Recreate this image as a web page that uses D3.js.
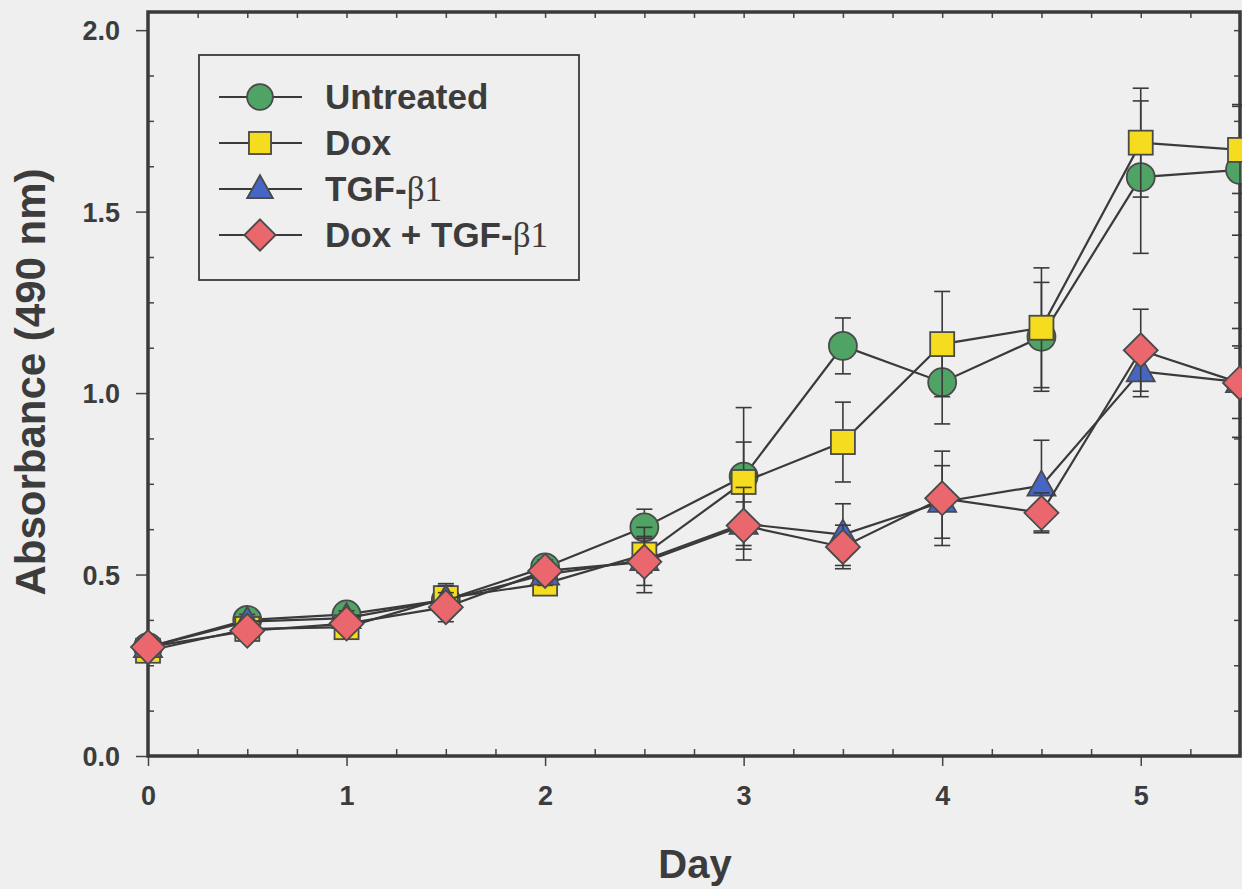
<!DOCTYPE html>
<html>
<head>
<meta charset="utf-8">
<script src="https://cdn.jsdelivr.net/npm/d3@7"></script>
<style>
  body { margin: 0; background: #efefef; }
  svg { display: block; }
  text { font-family: "Liberation Sans", Arial, sans-serif; font-weight: bold; fill: #3c3c3c; }
</style>
</head>
<body>
<svg id="chart" width="1242" height="889"></svg>
<script>
// days sampled
var days = [0, 0.5, 1, 1.5, 2, 2.5, 3, 3.5, 4, 4.5, 5, 5.5];

// absorbance means
var untreated = [0.30, 0.375, 0.39, 0.43, 0.52, 0.63, 0.77, 1.13, 1.03, 1.155, 1.595, 1.615];
var dox       = [0.29, 0.35, 0.355, 0.435, 0.475, 0.555, 0.755, 0.865, 1.135, 1.18, 1.69, 1.67];
var tgf       = [0.30, 0.37, 0.38, 0.43, 0.50, 0.54, 0.64, 0.61, 0.70, 0.745, 1.06, 1.03];
var doxTgf    = [0.30, 0.345, 0.365, 0.41, 0.51, 0.535, 0.635, 0.576, 0.71, 0.67, 1.118, 1.028];

// error bar half-widths
var untreatedErr = [0.02, 0.02, 0.02, 0.03, 0.03, 0.05, 0.19, 0.077, 0.115, 0.15, 0.21, 0.18];
var doxErr       = [0.02, 0.02, 0.02, 0.04, 0.03, 0.05, 0.11, 0.11, 0.145, 0.165, 0.15, 0.12];
var tgfErr       = [0.02, 0.02, 0.02, 0.04, 0.03, 0.09, 0.10, 0.085, 0.10, 0.125, 0.07, 0.10];
var doxTgfErr    = [0.02, 0.02, 0.02, 0.04, 0.03, 0.065, 0.065, 0.06, 0.13, 0.055, 0.113, 0.15];

var seriesNames = ["Untreated", "Dox", "TGF-", "Dox + TGF-"];
var xTicks = [0, 1, 2, 3, 4, 5];
var yTicks = [0.0, 0.5, 1.0, 1.5, 2.0];

var series = [
  {name: seriesNames[0], beta: false, vals: untreated, err: untreatedErr, color: "#4fa465", shape: "circle"},
  {name: seriesNames[1], beta: false, vals: dox,       err: doxErr,       color: "#f5dc1e", shape: "square"},
  {name: seriesNames[2], beta: true,  vals: tgf,       err: tgfErr,       color: "#4566c4", shape: "triangle"},
  {name: seriesNames[3], beta: true,  vals: doxTgf,    err: doxTgfErr,    color: "#ea676d", shape: "diamond"}
];

var margin = {top: 12, left: 148},
    width = 1240 - margin.left,
    height = 756 - margin.top;

var x = d3.scaleLinear().domain([0, 5.5]).range([0, width]);
var y = d3.scaleLinear().domain([0, 2.05]).range([height, 0]);

var svg = d3.select("#chart");
var g = svg.append("g")
    .attr("transform", "translate(" + margin.left + "," + margin.top + ")");

function range(a, b, step) {
  var out = [];
  for (var v = a; v <= b + 1e-9; v += step) out.push(+v.toFixed(4));
  return out;
}

// minor ticks, pointing inwards
g.append("g").attr("class", "minor")
    .attr("transform", "translate(0," + height + ")")
    .call(d3.axisBottom(x).tickValues(range(0, 5.5, 0.25).filter(function(d){ return d % 1 != 0; })).tickSize(-7).tickFormat(""));
g.append("g").attr("class", "minor")
    .call(d3.axisTop(x).tickValues(range(0.25, 5.25, 0.25)).tickSize(-6).tickFormat(""));
g.append("g").attr("class", "minor")
    .call(d3.axisLeft(y).tickValues(range(0, 2, 0.125).filter(function(d){ return d % 0.5 != 0; })).tickSize(-6).tickFormat(""));
g.append("g").attr("class", "minor")
    .attr("transform", "translate(" + width + ",0)")
    .call(d3.axisRight(y).tickValues(range(0.125, 2, 0.125)).tickSize(-6).tickFormat(""));

// major ticks, pointing outwards
var xAxis = g.append("g")
    .attr("transform", "translate(0," + height + ")")
    .call(d3.axisBottom(x).tickValues(xTicks).tickSize(10).tickPadding(20).tickFormat(d3.format("d")));
var yAxis = g.append("g")
    .call(d3.axisLeft(y).tickValues(yTicks).tickSize(12).tickPadding(16).tickFormat(d3.format(".1f")));

g.selectAll(".domain").remove();
g.selectAll(".tick line").attr("stroke", "#444").attr("stroke-width", 1.5);
xAxis.selectAll("text").style("font-size", "27px").attr("fill", "#3c3c3c").attr("dy", "0.7em");
yAxis.selectAll("text").style("font-size", "27px").attr("fill", "#3c3c3c").attr("dy", "0.36em");

// frame
g.append("rect")
    .attr("width", width).attr("height", height)
    .attr("fill", "none").attr("stroke", "#3a3a3a").attr("stroke-width", 3.5);

// axis titles
svg.append("text")
    .attr("transform", "translate(45,382) rotate(-90)")
    .attr("text-anchor", "middle")
    .style("font-size", "42px")
    .text("Absorbance (490 nm)");
svg.append("text")
    .attr("x", 695).attr("y", 878)
    .attr("text-anchor", "middle")
    .style("font-size", "40px")
    .text("Day");

function drawMarker(sel, shape, color, k) {
  k = k || 1;
  sel.attr("fill", color).attr("stroke", "#4a4a4a").attr("stroke-width", 1.8);
  if (shape == "circle") {
    sel.append("circle").attr("r", 14 * k);
  } else if (shape == "square") {
    sel.append("rect").attr("x", -12 * k).attr("y", -12 * k).attr("width", 24 * k).attr("height", 24 * k);
  } else if (shape == "triangle") {
    sel.append("path").attr("d", "M0," + (-15 * k) + "L" + (14 * k) + "," + (10 * k) + "L" + (-14 * k) + "," + (10 * k) + "Z");
  } else {
    sel.append("path").attr("d", "M0," + (-17 * k) + "L" + (17 * k) + ",0L0," + (17 * k) + "L" + (-17 * k) + ",0Z");
  }
}

var line = d3.line()
    .x(function(d, i) { return x(days[i]); })
    .y(function(d) { return y(d); });

series.forEach(function(s) {
  var sg = g.append("g");

  // error bars first, so the series' own symbols sit over them
  var eb = sg.selectAll(".err")
      .data(s.vals)
    .enter().append("g")
      .attr("stroke", "#3a3a3a")
      .attr("stroke-width", 1.6);
  eb.append("line")
      .attr("x1", function(d, i) { return x(days[i]); })
      .attr("x2", function(d, i) { return x(days[i]); })
      .attr("y1", function(d, i) { return y(d + s.err[i]); })
      .attr("y2", function(d, i) { return y(d - s.err[i]); });
  [1, -1].forEach(function(sign) {
    eb.append("line")
        .attr("x1", function(d, i) { return x(days[i]) - 8; })
        .attr("x2", function(d, i) { return x(days[i]) + 8; })
        .attr("y1", function(d, i) { return y(d + sign * s.err[i]); })
        .attr("y2", function(d, i) { return y(d + sign * s.err[i]); });
  });

  sg.append("path")
      .datum(s.vals)
      .attr("d", line)
      .attr("fill", "none")
      .attr("stroke", "#3a3a3a")
      .attr("stroke-width", 2.2);

  sg.selectAll(".pt")
      .data(s.vals)
    .enter().append("g")
      .attr("transform", function(d, i) { return "translate(" + x(days[i]) + "," + y(d) + ")"; })
      .each(function() { drawMarker(d3.select(this), s.shape, s.color); });
});

// legend
var legend = svg.append("g");
legend.append("rect")
    .attr("x", 199).attr("y", 55).attr("width", 380).attr("height", 225)
    .attr("fill", "none").attr("stroke", "#3a3a3a").attr("stroke-width", 1.8);

var rowY = d3.scalePoint().domain(seriesNames).range([97, 235]);
series.forEach(function(s) {
  var ly = rowY(s.name);
  legend.append("line")
      .attr("x1", 219).attr("x2", 302).attr("y1", ly).attr("y2", ly)
      .attr("stroke", "#3a3a3a").attr("stroke-width", 2);
  drawMarker(legend.append("g").attr("transform", "translate(260," + ly + ")"), s.shape, s.color, 0.92);
  var t = legend.append("text")
      .attr("x", 325).attr("y", ly + 12)
      .style("font-size", "35px")
      .text(s.name);
  if (s.beta) {
    t.append("tspan")
        .style("font-family", "'Liberation Serif', 'Times New Roman', serif")
        .style("font-weight", "normal")
        .text("\u03b21");
  }
});
</script>
</body>
</html>
